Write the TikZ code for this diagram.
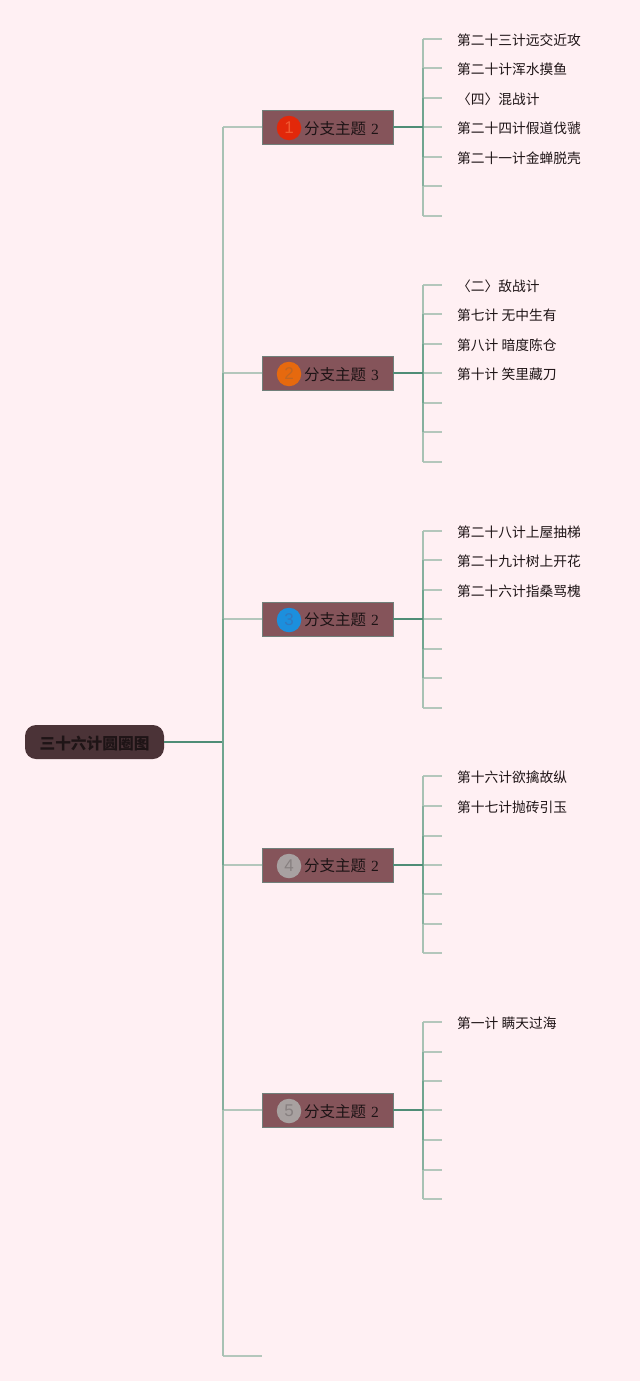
\documentclass[tikz,border=0pt]{standalone}
\usepackage{fontspec}
\setmainfont{Liberation Serif}
\newfontfamily\cjk{Noto Sans CJK SC}
\newfontfamily\digitfont{Liberation Sans}
\definecolor{bgc}{HTML}{FFF0F3}
\definecolor{boxc}{HTML}{85545A}
\definecolor{boxe}{HTML}{70807A}
\definecolor{rootc}{HTML}{4B3337}
\definecolor{ink}{HTML}{1E1416}
\definecolor{lnlight}{HTML}{B4C7BC}
\definecolor{lnouter}{HTML}{A8C2B4}
\definecolor{lnmid}{HTML}{86B09E}
\definecolor{lninner}{HTML}{6FA58F}
\definecolor{lndark}{HTML}{4F8D76}
\tikzset{
  x=1pt,y=-1pt,
  rootbox/.style={draw=none,fill=rootc,rounded corners=11pt,minimum width=139pt,minimum height=34pt,inner sep=0pt,text=ink,text height=15pt,text depth=1pt,font=\cjk\bfseries\fontsize{15.7}{15.7}\selectfont},
  branchbox/.style={draw=boxe,line width=0.9pt,fill=boxc,minimum width=131pt,minimum height=34pt,inner xsep=0pt,inner ysep=0pt,text=ink,text width=131pt,text height=16pt,text depth=2.4pt,align=left,font=\fontsize{15.5}{15.5}\selectfont},
  badge/.style={circle,minimum size=24.5pt,inner sep=0pt,font=\digitfont\fontsize{17}{17}\selectfont},
  leaf/.style={anchor=west,inner xsep=15pt,inner ysep=0pt,text height=16pt,text depth=3pt,text=ink,font=\cjk\fontsize{13.75}{13.75}\selectfont},
  stub/.style={draw=lnlight,line width=1.8pt},
  spineouter/.style={draw=lnouter,line width=1.8pt},
  spinemid/.style={draw=lnmid,line width=1.8pt},
  spineinner/.style={draw=lninner,line width=1.8pt},
  spinecore/.style={draw=lndark,line width=1.8pt},
}
\newcommand{\branchtext}[1]{\hspace*{42pt}{\cjk 分支主题} #1}
\newcommand{\drawspine}[1]{%
  \foreach \s in {a,b,c,d,e,f,g} {\draw[stub] (#1\s -| j#1) -- (#1\s);}
  \draw[spineouter] (#1a -| j#1) -- (#1b -| j#1);
  \draw[spineouter] (#1f -| j#1) -- (#1g -| j#1);
  \draw[spinemid] (#1b -| j#1) -- (#1c -| j#1);
  \draw[spinemid] (#1e -| j#1) -- (#1f -| j#1);
  \draw[spineinner] (#1c -| j#1) -- (#1e -| j#1);
  \draw[spinecore] (j#1 -| b#1.east) -- (j#1);
}
\begin{document}
\begin{tikzpicture}
\useasboundingbox[fill=bgc] (0,0) rectangle (640,1381);

% root and trunk
\node[rootbox] (root) at (94.5,742) {三十六计圆圈图};
\coordinate (trunk) at (223,742);
\coordinate (tail) at (262,1356);

% branch boxes
\node[branchbox] (b1) at (327.5,127.5) {\branchtext{2}};
\node[branchbox] (b2) at (327.5,373.5) {\branchtext{3}};
\node[branchbox] (b3) at (327.5,619) {\branchtext{2}};
\node[branchbox] (b4) at (327.5,865) {\branchtext{2}};
\node[branchbox] (b5) at (327.5,1110.5) {\branchtext{2}};

% badges
\node[badge,fill={rgb,255:red,226;green,40;blue,10},text={rgb,255:red,240;green,90;blue,50}] (c1) at (289,128) {1};
\node[badge,fill={rgb,255:red,230;green,105;blue,14},text={rgb,255:red,192;green,102;blue,34}] (c2) at (289,374) {2};
\node[badge,fill={rgb,255:red,28;green,143;blue,221},text={rgb,255:red,50;green,120;blue,190}] (c3) at (289,620) {3};
\node[badge,fill={rgb,255:red,168;green,161;blue,161},text={rgb,255:red,135;green,128;blue,128}] (c4) at (289,866) {4};
\node[badge,fill={rgb,255:red,168;green,161;blue,160},text={rgb,255:red,135;green,128;blue,128}] (c5) at (289,1111) {5};

% spine junctions
\coordinate (j1) at (423,127);
\coordinate (j2) at (423,373);
\coordinate (j3) at (423,619);
\coordinate (j4) at (423,865);
\coordinate (j5) at (423,1110);

% leaves of branch 1
\node[leaf] (1a) at (442,39) {第二十三计远交近攻};
\node[leaf] (1b) at (442,68) {第二十计浑水摸鱼};
\node[leaf] (1c) at (442,98) {〈四〉混战计};
\node[leaf] (1d) at (442,127) {第二十四计假道伐虢};
\node[leaf] (1e) at (442,157) {第二十一计金蝉脱壳};
\coordinate (1f) at (442,186);
\coordinate (1g) at (442,216);
% leaves of branch 2
\node[leaf] (2a) at (442,285) {〈二〉敌战计};
\node[leaf] (2b) at (442,314) {第七计 无中生有};
\node[leaf] (2c) at (442,344) {第八计 暗度陈仓};
\node[leaf] (2d) at (442,373) {第十计 笑里藏刀};
\coordinate (2e) at (442,403);
\coordinate (2f) at (442,432);
\coordinate (2g) at (442,462);
% leaves of branch 3
\node[leaf] (3a) at (442,531) {第二十八计上屋抽梯};
\node[leaf] (3b) at (442,560) {第二十九计树上开花};
\node[leaf] (3c) at (442,590) {第二十六计指桑骂槐};
\coordinate (3d) at (442,619);
\coordinate (3e) at (442,649);
\coordinate (3f) at (442,678);
\coordinate (3g) at (442,708);
% leaves of branch 4
\node[leaf] (4a) at (442,776) {第十六计欲擒故纵};
\node[leaf] (4b) at (442,806) {第十七计抛砖引玉};
\coordinate (4c) at (442,836);
\coordinate (4d) at (442,865);
\coordinate (4e) at (442,894);
\coordinate (4f) at (442,924);
\coordinate (4g) at (442,953);
% leaves of branch 5
\node[leaf] (5a) at (442,1022) {第一计 瞒天过海};
\coordinate (5b) at (442,1052);
\coordinate (5c) at (442,1081);
\coordinate (5d) at (442,1110);
\coordinate (5e) at (442,1140);
\coordinate (5f) at (442,1170);
\coordinate (5g) at (442,1199);

% trunk connectors
\foreach \n in {1,...,5} {\draw[stub] (j\n -| trunk) -- (j\n -| b\n.west);}
\draw[stub] (tail -| trunk) -- (tail);
\draw[spinecore] (root) -- (trunk);
\draw[spineouter] (j1 -| trunk) -- (j2 -| trunk);
\draw[spinemid] (j2 -| trunk) -- (j3 -| trunk);
\draw[spineinner] (j3 -| trunk) -- (j4 -| trunk);
\draw[spinemid] (j4 -| trunk) -- (j5 -| trunk);
\draw[spineouter] (j5 -| trunk) -- (tail -| trunk);

% spines and stubs
\drawspine{1}
\drawspine{2}
\drawspine{3}
\drawspine{4}
\drawspine{5}
\end{tikzpicture}
\end{document}
